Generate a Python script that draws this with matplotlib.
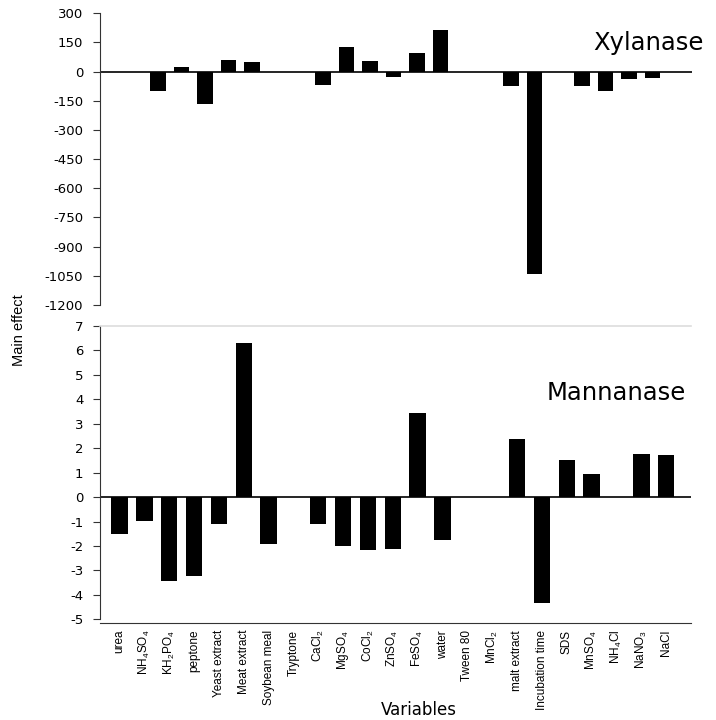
import matplotlib
matplotlib.use('Agg')
import matplotlib.pyplot as plt
import numpy as np

plt.rcParams['axes.unicode_minus'] = False
plt.rcParams['mathtext.fontset'] = 'custom'
plt.rcParams['mathtext.rm'] = 'Liberation Sans'
plt.rcParams['mathtext.it'] = 'Liberation Sans'

names = ['urea', r'NH$_4$SO$_4$', r'KH$_2$PO$_4$', 'peptone', 'Yeast extract',
         'Meat extract', 'Soybean meal', 'Tryptone', r'CaCl$_2$', r'MgSO$_4$',
         r'CoCl$_2$', r'ZnSO$_4$', r'FeSO$_4$', 'water', 'Tween 80', r'MnCl$_2$',
         'malt extract', 'Incubation time', 'SDS', r'MnSO$_4$', r'NH$_4$Cl',
         r'NaNO$_3$', 'NaCl']

xylanase = [0, -100, 24, -168, 60, 50, 0, 0, -70, 125, 57, -29, 96, 214,
            0, 0, -75, -1040, 0, -75, -99, -40, -33]
mannanase = [-1.51, -0.98, -3.42, -3.21, -1.12, 6.32, -1.92, 0, -1.08, -2.02,
             -2.17, -2.11, 3.43, -1.77, 0, 0, 2.38, -4.34, 1.51, 0.95, 0,
             1.78, 1.74]

xy_ticks = np.arange(-1200, 301, 150)
mn_ticks = np.arange(-5, 8, 1)

fig = plt.figure(figsize=(7.16, 7.2), dpi=100)
ax1 = fig.add_axes([100/716, 1-305/720, 592/716, (305-13.3)/720])
ax2 = fig.add_axes([100/716, 1-623/720, 591/716, (623-326)/720])

x = np.arange(len(names))

# top: xylanase
ax1.bar(x, xylanase, width=0.66, color='black')
ax1.axhline(0, color='black', lw=1.2)
ax1.set_xlim(-1.46, 23.68)
ax1.set_ylim(-1200, 300)
ax1.set_yticks(xy_ticks)
ax1.set_xticks([])
for s in ['top', 'right', 'bottom']:
    ax1.spines[s].set_visible(False)
ax1.spines['left'].set_color('#333333')
ax1.tick_params(axis='y', direction='out', length=5, pad=7, color='#333333',
                labelsize=9.5)

# bottom: mannanase
ax2.bar(x, mannanase, width=0.66, color='black')
ax2.axhline(0, color='black', lw=1.2)
ax2.set_xlim(-0.785, 23.0)
ax2.set_ylim(-5.15, 7)
ax2.set_yticks(mn_ticks)
ax2.spines['right'].set_visible(False)
ax2.spines['top'].set_color('#dddddd')
ax2.spines['top'].set_linewidth(1.2)
ax2.spines['left'].set_color('#333333')
ax2.spines['left'].set_bounds(-5, 7)
ax2.spines['bottom'].set_color('#333333')
ax2.tick_params(axis='y', direction='out', length=5, pad=7, color='#333333',
                labelsize=9.5)
ax2.set_xticks(x)
ax2.set_xticklabels(names, rotation=90, fontsize=8.5, family='Liberation Sans')
ax2.tick_params(axis='x', length=0, pad=5)

fig.text(593/716, 1-43/720, 'Xylanase', fontsize=17.5, va='center', ha='left')
fig.text(547/716, 1-393/720, 'Mannanase', fontsize=17.5, va='center', ha='left')
fig.text(419/716, 1-710/720, 'Variables', fontsize=12, va='center', ha='center')
fig.text(19/716, 1-330/720, 'Main effect', fontsize=10.5, rotation=90,
         va='center', ha='center', family='Liberation Sans')

fig.savefig('out.png', dpi=100)
